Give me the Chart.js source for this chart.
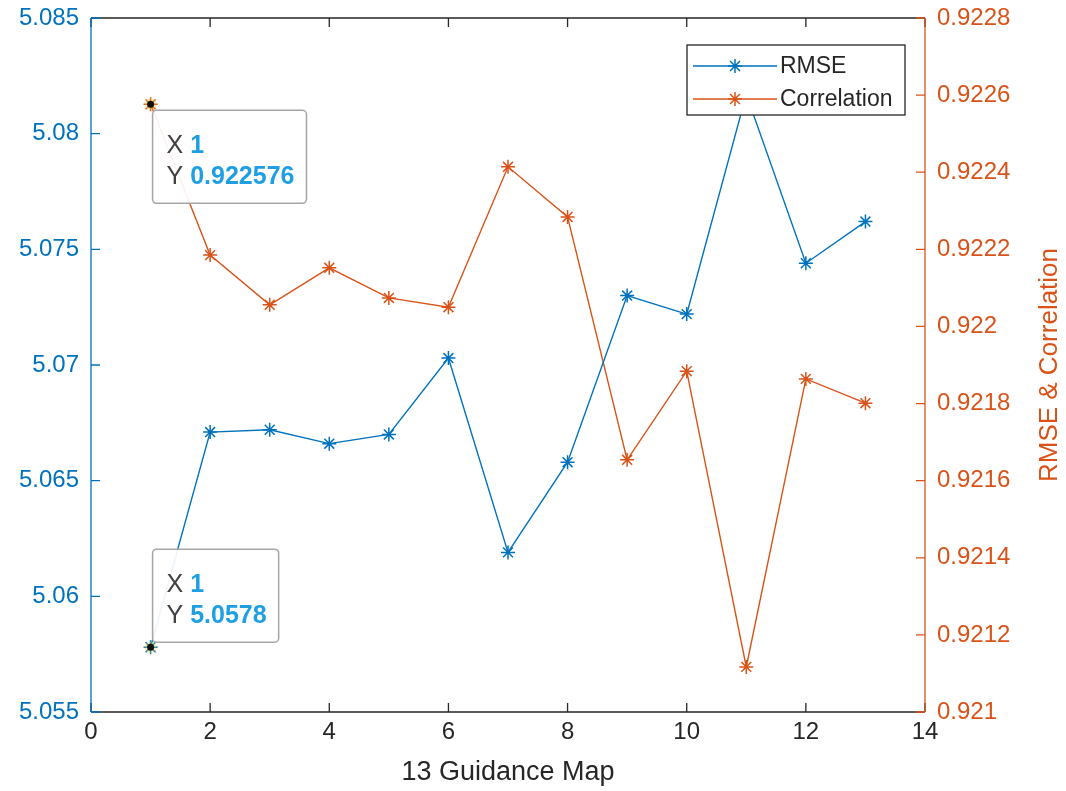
<!DOCTYPE html>
<html>
<head>
<meta charset="utf-8">
<script src="https://cdn.jsdelivr.net/npm/chart.js@4.4.1/dist/chart.umd.min.js"></script>
<style>
  html, body { margin: 0; padding: 0; background: #fff; overflow: hidden; }
</style>
</head>
<body>
<canvas id="chart" width="1066" height="791"></canvas>
<script>
// values
const guidanceMap = [1, 2, 3, 4, 5, 6, 7, 8, 9, 10, 11, 12, 13];
const rmse = [5.0578, 5.0671, 5.0672, 5.0666, 5.0670, 5.0703, 5.0619, 5.0658, 5.0730, 5.0722, 5.0817, 5.0744, 5.0762];
const correlation = [0.922576, 0.922185, 0.922056, 0.922152, 0.922074, 0.922050, 0.922414, 0.922284, 0.921654, 0.921884, 0.921117, 0.921864, 0.921801];

const xTicks = [0, 2, 4, 6, 8, 10, 12, 14];
const leftTicks = [5.055, 5.06, 5.065, 5.07, 5.075, 5.08, 5.085];
const rightTicks = [0.921, 0.9212, 0.9214, 0.9216, 0.9218, 0.922, 0.9222, 0.9224, 0.9226, 0.9228];

const BLUE = "#0072BD";
const ORANGE = "#D95319";
const DARK = "#262626";
const FONT = "'Liberation Sans', Arial, Helvetica, sans-serif";

const toTicks = list => scale => { scale.ticks = list.map(v => ({ value: v })); };

// axes box + inward ticks, like matlab
const matlabAxes = {
  id: "matlabAxes",
  afterDatasetsDraw(chart) {
    const { ctx, chartArea: a, scales } = chart;
    const tl = 9;
    ctx.save();
    ctx.lineWidth = 1.3;
    ctx.strokeStyle = DARK;
    ctx.beginPath();
    ctx.moveTo(a.left, a.bottom); ctx.lineTo(a.right, a.bottom);
    ctx.moveTo(a.left, a.top); ctx.lineTo(a.right, a.top);
    scales.x.ticks.forEach(t => {
      const px = scales.x.getPixelForValue(t.value);
      ctx.moveTo(px, a.bottom); ctx.lineTo(px, a.bottom - tl);
      ctx.moveTo(px, a.top); ctx.lineTo(px, a.top + tl);
    });
    ctx.stroke();

    ctx.strokeStyle = BLUE;
    ctx.beginPath();
    ctx.moveTo(a.left, a.top); ctx.lineTo(a.left, a.bottom);
    scales.yL.ticks.forEach(t => {
      const py = scales.yL.getPixelForValue(t.value);
      ctx.moveTo(a.left, py); ctx.lineTo(a.left + tl, py);
    });
    ctx.stroke();

    ctx.strokeStyle = ORANGE;
    ctx.beginPath();
    ctx.moveTo(a.right, a.top); ctx.lineTo(a.right, a.bottom);
    scales.yR.ticks.forEach(t => {
      const py = scales.yR.getPixelForValue(t.value);
      ctx.moveTo(a.right, py); ctx.lineTo(a.right - tl, py);
    });
    ctx.stroke();

    // right axis label reads bottom to top
    ctx.fillStyle = ORANGE;
    ctx.font = "26px " + FONT;
    ctx.textAlign = "center";
    ctx.textBaseline = "middle";
    ctx.translate(1050, (a.top + a.bottom) / 2);
    ctx.rotate(-Math.PI / 2);
    ctx.fillText("RMSE & Correlation", 0, 0);
    ctx.restore();
  }
};

// the two data tips at x = 1
const dataTips = {
  id: "dataTips",
  afterDraw(chart) {
    const { ctx, scales } = chart;
    const tips = [
      { x: guidanceMap[0], y: correlation[0], axis: "yR", below: true },
      { x: guidanceMap[0], y: rmse[0], axis: "yL", below: false }
    ];
    ctx.save();
    tips.forEach(tip => {
      const px = scales.x.getPixelForValue(tip.x);
      const py = scales[tip.axis].getPixelForValue(tip.y);
      const xs = String(tip.x), ys = String(tip.y);
      ctx.font = "bold 25px " + FONT;
      const vw = Math.max(ctx.measureText(xs).width, ctx.measureText(ys).width);
      ctx.font = "25px " + FONT;
      const lw = ctx.measureText("Y ").width;
      const w = lw + vw + 26;
      const h = 93;
      const bx = px + 2;
      const by = tip.below ? py + 6 : py - 5 - h;

      ctx.fillStyle = "rgba(255,255,255,0.92)";
      ctx.strokeStyle = "#a6a6a6";
      ctx.lineWidth = 1.5;
      ctx.beginPath();
      ctx.roundRect(bx, by, w, h, 4);
      ctx.fill();
      ctx.stroke();

      ctx.textBaseline = "middle";
      ctx.textAlign = "left";
      ctx.fillStyle = "#404040";
      ctx.font = "25px " + FONT;
      ctx.fillText("X", bx + 14, by + 36);
      ctx.fillText("Y", bx + 14, by + 67);
      ctx.fillStyle = "#1E9FE3";
      ctx.font = "bold 25px " + FONT;
      ctx.fillText(xs, bx + 14 + lw, by + 36);
      ctx.fillText(ys, bx + 14 + lw, by + 67);

      ctx.fillStyle = "rgba(230,200,60,0.35)";
      ctx.beginPath(); ctx.arc(px, py, 6, 0, Math.PI * 2); ctx.fill();
      ctx.fillStyle = "#111";
      ctx.beginPath(); ctx.arc(px, py, 3.5, 0, Math.PI * 2); ctx.fill();
    });
    ctx.restore();
  }
};

// legend box in the upper right corner of the axes
const boxLegend = {
  id: "boxLegend",
  afterDraw(chart) {
    const { ctx, chartArea: a } = chart;
    const right = a.right - 20, top = a.top + 27;
    const w = 218, h = 70;
    const left = right - w;
    ctx.save();
    ctx.fillStyle = "#fff";
    ctx.fillRect(left, top, w, h);
    ctx.strokeStyle = DARK;
    ctx.lineWidth = 1.3;
    ctx.strokeRect(left, top, w, h);
    ctx.font = "23px " + FONT;
    ctx.textBaseline = "middle";
    chart.data.datasets.forEach((ds, i) => {
      const y = top + 21 + i * 33;
      ctx.strokeStyle = ds.borderColor;
      ctx.lineWidth = 1.3;
      ctx.beginPath(); ctx.moveTo(left + 6, y); ctx.lineTo(left + 90, y); ctx.stroke();
      ctx.lineWidth = 1.5;
      Chart.helpers.drawPoint(ctx, { pointStyle: "star", rotation: 0, radius: 7, borderWidth: 1.5 }, left + 48, y);
      ctx.fillStyle = DARK;
      ctx.fillText(ds.label, left + 93, y + 1);
    });
    ctx.restore();
  }
};

const series = (label, values, color, axis) => ({
  label,
  data: guidanceMap.map((x, i) => ({ x, y: values[i] })),
  yAxisID: axis,
  borderColor: color,
  backgroundColor: color,
  borderWidth: 1.4,
  pointStyle: "star",
  pointRadius: 7,
  pointBorderWidth: 1.5,
  pointBorderColor: color,
  fill: false,
  tension: 0
});

const noPadY = s => { s.paddingTop = 0; s.paddingBottom = 0; };

new Chart(document.getElementById("chart"), {
  type: "line",
  data: {
    datasets: [
      series("RMSE", rmse, BLUE, "yL"),
      series("Correlation", correlation, ORANGE, "yR")
    ]
  },
  options: {
    responsive: false,
    animation: false,
    layout: { padding: { top: 18, left: 0, right: 0, bottom: 0 } },
    plugins: { legend: { display: false }, tooltip: { enabled: false } },
    scales: {
      x: {
        type: "linear",
        position: "bottom",
        min: 0,
        max: 14,
        afterBuildTicks: toTicks(xTicks),
        afterFit: s => { s.height = 79; s.paddingLeft = 0; s.paddingRight = 0; },
        grid: { display: false, drawTicks: false },
        border: { display: false },
        ticks: { color: DARK, font: { family: FONT, size: 24 }, padding: 6, maxRotation: 0, callback: v => String(v) },
        title: { display: true, text: "13 Guidance Map", color: DARK, font: { family: FONT, size: 27 }, padding: { top: 0, bottom: 2 } }
      },
      yL: {
        type: "linear",
        position: "left",
        min: 5.055,
        max: 5.085,
        afterBuildTicks: toTicks(leftTicks),
        afterFit: s => { s.width = 91; noPadY(s); },
        grid: { display: false, drawTicks: false },
        border: { display: false },
        ticks: { color: BLUE, font: { family: FONT, size: 24 }, padding: 12, callback: v => String(v) }
      },
      yR: {
        type: "linear",
        position: "right",
        min: 0.921,
        max: 0.9228,
        afterBuildTicks: toTicks(rightTicks),
        afterFit: s => { s.width = 141; noPadY(s); },
        grid: { display: false, drawTicks: false },
        border: { display: false },
        ticks: { color: ORANGE, font: { family: FONT, size: 24 }, padding: 12, callback: v => String(v) }
      }
    }
  },
  plugins: [matlabAxes, dataTips, boxLegend]
});
</script>
</body>
</html>
